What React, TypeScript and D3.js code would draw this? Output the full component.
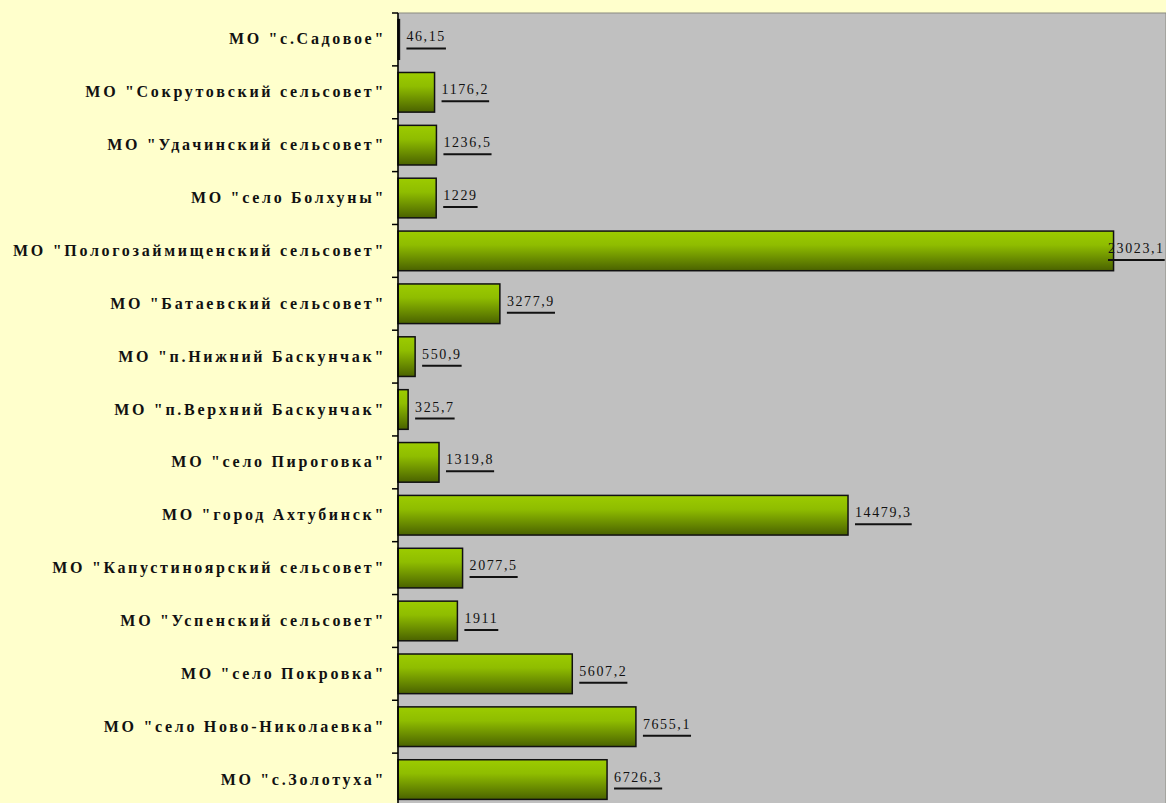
import { useEffect, useRef } from 'react';
import * as d3 from 'd3';

const names = [
  'МО "с.Садовое"',
  'МО "Сокрутовский сельсовет"',
  'МО "Удачинский сельсовет"',
  'МО "село Болхуны"',
  'МО "Пологозаймищенский сельсовет"',
  'МО "Батаевский сельсовет"',
  'МО "п.Нижний Баскунчак"',
  'МО "п.Верхний Баскунчак"',
  'МО "село Пироговка"',
  'МО "город Ахтубинск"',
  'МО "Капустиноярский сельсовет"',
  'МО "Успенский сельсовет"',
  'МО "село Покровка"',
  'МО "село Ново-Николаевка"',
  'МО "с.Золотуха"',
];
const values = [46.15, 1176.2, 1236.5, 1229, 23023.1, 3277.9, 550.9, 325.7, 1319.8, 14479.3, 2077.5, 1911, 5607.2, 7655.1, 6726.3];
const valueLabels = ['46,15', '1176,2', '1236,5', '1229', '23023,1', '3277,9', '550,9', '325,7', '1319,8', '14479,3', '2077,5', '1911', '5607,2', '7655,1', '6726,3'];

const App = () => {
  const svgRef = useRef<SVGSVGElement | null>(null);

  useEffect(() => {
    document.body.style.margin = '0';
    const svgEl = svgRef.current;
    if (!svgEl) return;

    const width = 1166;
    const height = 803;
    const plot = { left: 398, top: 13, bottom: 806 };

    const x = d3.scaleLinear().domain([0, 25000]).range([plot.left, plot.left + 25000 * 0.03108]);
    const y = d3.scaleBand<string>().domain(names).range([plot.top, plot.bottom]).paddingInner(0.25).paddingOuter(0.125);

    const svg = d3.select(svgEl);
    svg.selectAll('*').remove();
    svg.attr('width', width).attr('height', height);

    const defs = svg.append('defs');
    const grad = defs.append('linearGradient').attr('id', 'barGrad').attr('x1', 0).attr('y1', 0).attr('x2', 0).attr('y2', 1);
    grad.append('stop').attr('offset', '0%').attr('stop-color', '#9ccc00');
    grad.append('stop').attr('offset', '35%').attr('stop-color', '#8fbd00');
    grad.append('stop').attr('offset', '100%').attr('stop-color', '#4a6200');

    // backgrounds
    svg.append('rect').attr('width', width).attr('height', height).attr('fill', '#ffffcc');
    svg.append('rect')
      .attr('x', plot.left).attr('y', plot.top)
      .attr('width', width - plot.left).attr('height', plot.bottom - plot.top)
      .attr('fill', '#c0c0c0')
      .attr('stroke', '#8a8a80').attr('stroke-width', 1);

    // bars
    svg.append('g')
      .selectAll('rect')
      .data(values)
      .join('rect')
      .attr('x', plot.left)
      .attr('y', (_, i) => y(names[i])!)
      .attr('width', (d) => x(d) - plot.left)
      .attr('height', y.bandwidth())
      .attr('fill', 'url(#barGrad)')
      .attr('stroke', '#111')
      .attr('stroke-width', 1.5);

    // value labels, underlined
    const lab = svg.append('g')
      .attr('font-family', '"Liberation Serif", serif')
      .attr('font-size', 14)
      .attr('letter-spacing', 1.6)
      .attr('fill', '#111');
    values.forEach((v, i) => {
      const cy = y(names[i])! + y.bandwidth() / 2;
      const tx = Math.min(x(v) + 7, width - 58);
      const t = lab.append('text').attr('x', tx).attr('y', cy + 2).text(valueLabels[i]);
      const w = (t.node() as SVGTextElement).getComputedTextLength();
      lab.append('line')
        .attr('x1', tx).attr('x2', tx + w)
        .attr('y1', cy + 9).attr('y2', cy + 9)
        .attr('stroke', '#111').attr('stroke-width', 2);
    });

    // y axis
    const axis = svg.append('g').attr('transform', `translate(${plot.left},0)`);
    axis.append('line').attr('x1', 0).attr('x2', 0).attr('y1', plot.top).attr('y2', plot.bottom).attr('stroke', '#000').attr('stroke-width', 1.5);
    const step = y.step();
    d3.range(names.length + 1).forEach((k) => {
      const ty = plot.top + k * step;
      axis.append('line').attr('x1', -6).attr('x2', 0).attr('y1', ty).attr('y2', ty).attr('stroke', '#000').attr('stroke-width', 1.5);
    });

    svg.append('g')
      .attr('font-family', '"Liberation Serif", serif')
      .attr('font-size', 16)
      .attr('font-weight', 'bold')
      .attr('letter-spacing', 2.7)
      .attr('fill', '#111')
      .attr('text-anchor', 'end')
      .selectAll('text')
      .data(names)
      .join('text')
      .attr('x', 386)
      .attr('y', (d) => y(d)! + y.bandwidth() / 2 + 5)
      .text((d) => d);
  }, []);

  return <svg ref={svgRef} style={{ display: 'block' }}></svg>;
};

export default App;
